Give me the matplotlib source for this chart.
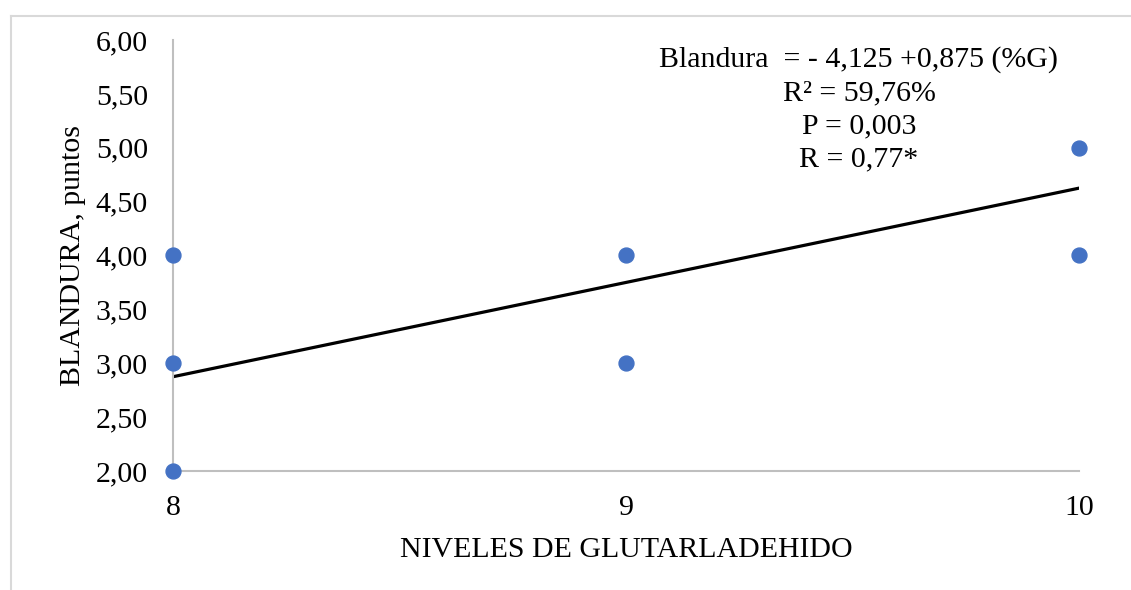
import matplotlib.pyplot as plt
from matplotlib.lines import Line2D
from matplotlib.ticker import FuncFormatter

plt.rcParams['font.family'] = ['Liberation Serif', 'DejaVu Serif']

# Glutaraldehyde level vs softness score
niveles = [8, 8, 8, 9, 9, 10, 10]
blandura = [2, 3, 4, 3, 4, 4, 5]

# Fitted regression: Blandura = -4.125 + 0.875 (%G)
intercepto = -4.125
pendiente = 0.875
x_fit = [8, 10]
y_fit = [intercepto + pendiente * x for x in x_fit]

y_ticks = [2.0, 2.5, 3.0, 3.5, 4.0, 4.5, 5.0, 5.5, 6.0]
x_ticks = [8, 9, 10]

fs = 21.5

fig = plt.figure(figsize=(11.31, 5.90), dpi=100)
ax = fig.add_axes([0.153, 0.2017, 0.801, 0.7305])

ax.plot(x_fit, y_fit, color='black', linewidth=2.3, zorder=2)
ax.scatter(niveles, blandura, s=115, color='#4472C4', zorder=3, clip_on=False)

ax.set_xlim(8, 10)
ax.set_ylim(2, 6)
ax.set_xticks(x_ticks)
ax.set_yticks(y_ticks)
ax.yaxis.set_major_formatter(FuncFormatter(lambda v, p: f"{v:.2f}".replace('.', ',')))
ax.tick_params(length=0, labelsize=fs)
ax.tick_params(axis='y', pad=18)
ax.tick_params(axis='x', pad=17)

for side in ['top', 'right']:
    ax.spines[side].set_visible(False)
for side in ['left', 'bottom']:
    ax.spines[side].set_color('#BFBFBF')
    ax.spines[side].set_linewidth(1.5)

ax.set_xlabel('NIVELES DE GLUTARLADEHIDO', fontsize=fs, labelpad=12)
ax.set_ylabel('BLANDURA, puntos', fontsize=fs, labelpad=7)

ax.text(0.7595, 1 - 46 / 590,
        'Blandura  = - 4,125 +0,875 (%G)\nR² = 59,76%\nP = 0,003\nR = 0,77*',
        transform=fig.transFigure, ha='center', va='top', fontsize=fs,
        linespacing=1.36)

# light frame around the chart area
fig.add_artist(Line2D([11 / 1131, 1.0], [1 - 16 / 590] * 2,
                      transform=fig.transFigure, color='#D9D9D9', linewidth=1.5))
fig.add_artist(Line2D([11 / 1131] * 2, [0.0, 1 - 16 / 590],
                      transform=fig.transFigure, color='#D9D9D9', linewidth=1.5))

fig.savefig('out.png', dpi=100)
